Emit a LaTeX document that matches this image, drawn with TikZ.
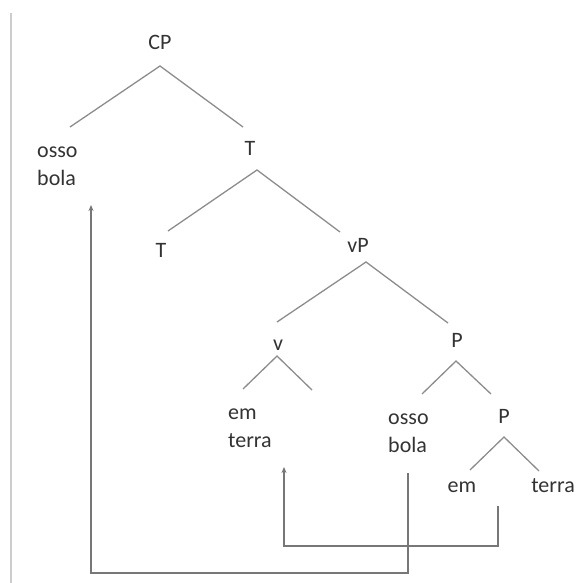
\documentclass[tikz,border=0pt]{standalone}
\usepackage{fontspec}
\setmainfont{Carlito}
\usetikzlibrary{arrows.meta}
\definecolor{txt}{HTML}{333333}
\definecolor{edge}{HTML}{8C8C8C}
\definecolor{arr}{HTML}{777777}
\definecolor{frame}{HTML}{CCCCCC}
\tikzset{
  lbl/.style={inner sep=0pt, text=txt, font=\fontsize{22}{28}\selectfont},
  lblml/.style={lbl, align=left},
  branch/.style={draw=edge, line width=1.3pt},
  move/.style={draw=arr, line width=1.5pt, -{Stealth[length=6pt,width=5pt]}},
}
\begin{document}
\begin{tikzpicture}[x=1pt,y=-1pt]
\useasboundingbox (0,0) rectangle (578,583);
\draw[frame, line width=1.8pt] (11,13) -- (11,583);

% labels (multi-line nodes: base = baseline of the last line)
\node[lbl, anchor=base] (CP) at (160,50) {CP};
\node[lblml, anchor=base west] (ossoA) at (37,185) {osso\\bola};
\node[lbl, anchor=base] (T1) at (250,155) {T};
\node[lbl, anchor=base] (T2) at (161,257) {T};
\node[lbl, anchor=base] (vP) at (358,252) {vP};
\node[lbl, anchor=base] (v) at (278,350) {v};
\node[lbl, anchor=base] (P1) at (457,347) {P};
\node[lblml, anchor=base west] (emterra) at (228,447) {em\\terra};
\node[lblml, anchor=base west] (ossoB) at (388,452) {osso\\bola};
\node[lbl, anchor=base] (P2) at (504,423) {P};
\node[lbl, anchor=base] (em) at (462,492) {em};
\node[lbl, anchor=base] (terra) at (553,492) {terra};

% branch points
\coordinate (cpA) at (160,66);  \coordinate (cpL) at (70,127);  \coordinate (cpR) at (243,127);
\coordinate (t1A) at (257,170); \coordinate (t1L) at (168,231); \coordinate (t1R) at (340,232);
\coordinate (vpA) at (366,262); \coordinate (vpL) at (277,322); \coordinate (vpR) at (448,323);
\coordinate (vA) at (277,356);  \coordinate (vL) at (243,389);  \coordinate (vR) at (312,390);
\coordinate (p1A) at (456,361); \coordinate (p1L) at (422,394); \coordinate (p1R) at (491,394);
\coordinate (p2A) at (504,437); \coordinate (p2L) at (470,470); \coordinate (p2R) at (539,471);

\draw[branch] (cpL) -- (cpA) -- (cpR);
\draw[branch] (t1L) -- (t1A) -- (t1R);
\draw[branch] (vpL) -- (vpA) -- (vpR);
\draw[branch] (vL) -- (vA) -- (vR);
\draw[branch] (p1L) -- (p1A) -- (p1R);
\draw[branch] (p2L) -- (p2A) -- (p2R);

% movement arrows
\coordinate (m1s) at (408,473); \coordinate (m1b) at (408,573);
\coordinate (m1t) at (91,205);
\draw[move] (m1s) -- (m1b) -| (m1t);
\coordinate (m2s) at (498,506); \coordinate (m2b) at (498,546);
\coordinate (m2t) at (284,467);
\draw[move] (m2s) -- (m2b) -| (m2t);
\end{tikzpicture}
\end{document}
